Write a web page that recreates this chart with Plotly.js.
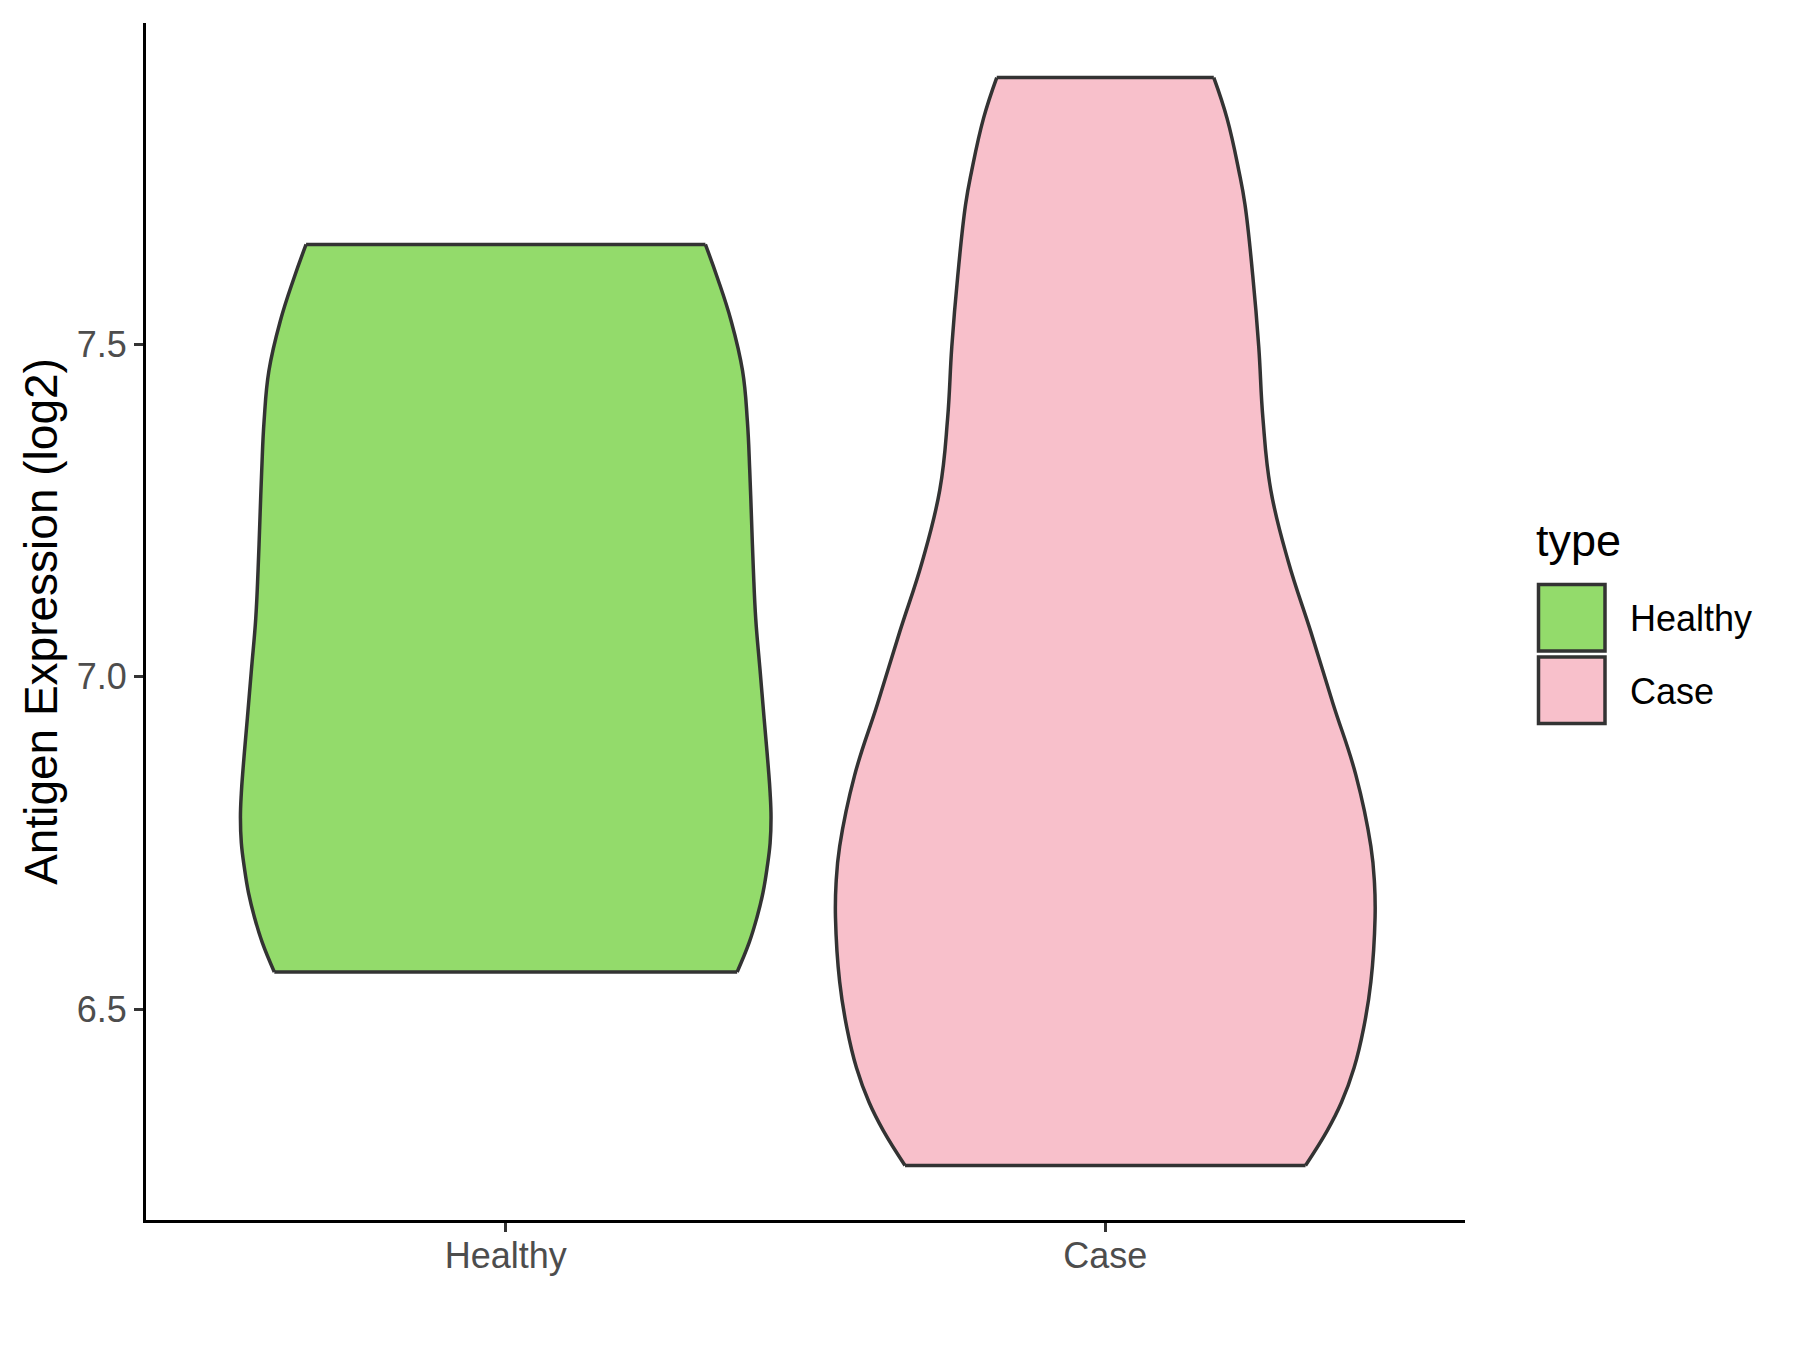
<!DOCTYPE html>
<html><head><meta charset="utf-8">
<script src="https://cdn.plot.ly/plotly-3.0.1.min.js"></script>
<style>html,body{margin:0;padding:0;background:#fff}#chart{width:1800px;height:1350px}</style>
</head><body><div id="chart"></div>
<script>
// ---- data ----
const categories = ['Healthy', 'Case'];
// violin outline: expression level (log2) and scaled density half-width (in category units)
const healthyY       = [6.556, 6.600, 6.638, 6.675, 6.713, 6.750, 6.788, 6.825, 6.863, 6.937, 7.012, 7.087, 7.162, 7.236, 7.310, 7.385, 7.460, 7.535, 7.600, 7.650];
const healthyDensity = [0.386, 0.406, 0.419, 0.429, 0.436, 0.441, 0.4425, 0.441, 0.438, 0.431, 0.424, 0.417, 0.413, 0.410, 0.407, 0.403, 0.395, 0.376, 0.353, 0.333];
const caseY          = [6.265, 6.317, 6.360, 6.412, 6.472, 6.541, 6.638, 6.690, 6.745, 6.852, 6.959, 7.067, 7.174, 7.281, 7.388, 7.496, 7.603, 7.710, 7.760, 7.840, 7.901];
const caseDensity    = [0.334, 0.370, 0.394, 0.415, 0.431, 0.443, 0.450, 0.449, 0.443, 0.418, 0.380, 0.343, 0.305, 0.276, 0.263, 0.256, 0.246, 0.233, 0.223, 0.203, 0.181];
const yTickValues = [6.5, 7.0, 7.5];
const yTickLabels = ['6.5', '7.0', '7.5'];
const yTitle = 'Antigen Expression (log2)';
const legendTitle = 'type';

// ---- styling ----
const fills = ['#93DB6B', '#F8C0CB'];
const outline = '#333333';
const FONT = '"Liberation Sans", Arial, Helvetica, sans-serif';

const series = [
  {name: categories[0], y: healthyY, w: healthyDensity, pos: 1, fill: fills[0]},
  {name: categories[1], y: caseY,    w: caseDensity,    pos: 2, fill: fills[1]}
];

const traces = [];
series.forEach(s => {
  traces.push({type: 'scatter', mode: 'lines', x: s.w.map(v => s.pos - v), y: s.y,
    line: {color: outline, width: 3.5, shape: 'spline', smoothing: 1.2}, showlegend: false, hoverinfo: 'skip'});
  traces.push({type: 'scatter', mode: 'lines', x: s.w.map(v => s.pos + v), y: s.y,
    fill: 'tonextx', fillcolor: s.fill, name: s.name,
    line: {color: outline, width: 3.5, shape: 'spline', smoothing: 1.2}, showlegend: false});
  const n = s.y.length - 1;
  traces.push({type: 'scatter', mode: 'lines',
    x: [s.pos - s.w[0], s.pos + s.w[0], null, s.pos - s.w[n], s.pos + s.w[n]],
    y: [s.y[0], s.y[0], null, s.y[n], s.y[n]],
    line: {color: outline, width: 3.5}, showlegend: false, hoverinfo: 'skip'});
});

// plot-area geometry (pixels) used to place the hand-drawn ggplot-style legend
const M = {l: 146, r: 335, t: 23, b: 130};
const PW = 1800 - M.l - M.r, PH = 1350 - M.t - M.b;
const px = v => (v - M.l) / PW;
const py = v => (1350 - M.b - v) / PH;

const shapes = [];
const annotations = [];
annotations.push({xref: 'paper', yref: 'paper', x: px(1534), y: py(540), xanchor: 'left', yanchor: 'middle',
  text: legendTitle, showarrow: false, font: {family: FONT, size: 45, color: '#000000'}});
const keyTop = [584.5, 657];
series.forEach((s, i) => {
  shapes.push({type: 'rect', xref: 'paper', yref: 'paper', x0: px(1538.5), x1: px(1605),
    y0: py(keyTop[i] + 66.5), y1: py(keyTop[i]), fillcolor: s.fill, line: {color: outline, width: 3.5}});
  annotations.push({xref: 'paper', yref: 'paper', x: px(1628), y: py(keyTop[i] + 34), xanchor: 'left', yanchor: 'middle',
    text: s.name, showarrow: false, font: {family: FONT, size: 36, color: '#000000'}});
});

const axisCommon = {
  showline: true, linecolor: '#000000', linewidth: 3, mirror: false,
  showgrid: false, zeroline: false,
  ticks: 'outside', ticklen: 9, tickwidth: 3, tickcolor: '#333333',
  tickfont: {family: FONT, size: 36, color: '#4D4D4D'}
};

const layout = {
  width: 1800, height: 1350,
  margin: M,
  paper_bgcolor: '#ffffff', plot_bgcolor: '#ffffff',
  showlegend: false,
  font: {family: FONT},
  xaxis: Object.assign({}, axisCommon, {
    range: [0.4, 2.6], tickvals: [1, 2], ticktext: categories, ticklabelstandoff: -7
  }),
  yaxis: Object.assign({}, axisCommon, {
    range: [6.183, 7.983], tickvals: yTickValues, ticktext: yTickLabels,
    title: {text: yTitle, font: {family: FONT, size: 46, color: '#000000'}, standoff: 5}
  }),
  shapes: shapes,
  annotations: annotations
};

Plotly.newPlot('chart', traces, layout, {displayModeBar: false, staticPlot: true});
</script>
</body></html>
